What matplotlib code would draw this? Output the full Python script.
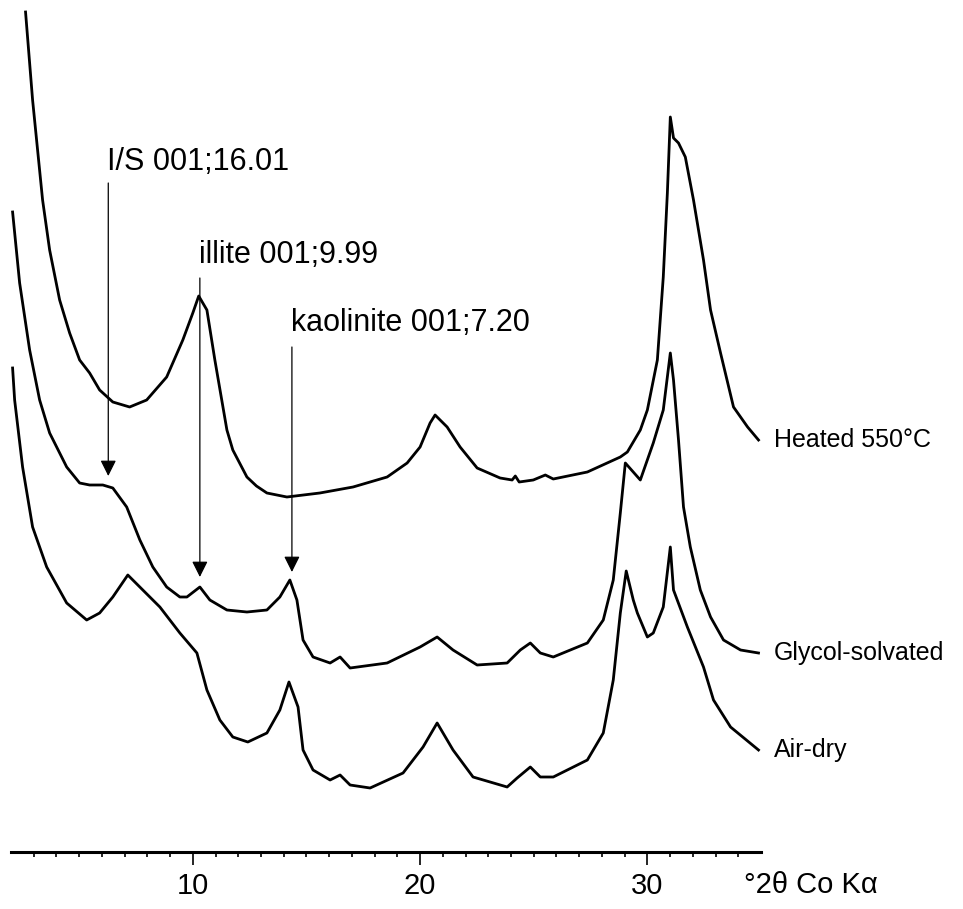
import numpy as np
import matplotlib
matplotlib.use('Agg')
import matplotlib.pyplot as plt

plt.rcParams['font.family'] = ['Liberation Sans', 'DejaVu Sans']

# XRD patterns, values (°2θ, stacked intensity)
heated_2theta = [2.64, 2.95, 3.17, 3.39, 3.70, 4.14, 4.58, 5.02, 5.46, 5.90, 6.48, 7.22, 7.97,
                 8.85, 9.56, 10.0, 10.26, 10.62, 10.97, 11.50, 11.76, 12.38, 12.80, 13.26,
                 14.14, 15.59, 17.05, 18.55, 19.43, 20.0, 20.44, 20.66, 21.19, 21.76, 22.51,
                 23.52, 24.05, 24.19, 24.36, 24.98, 25.51, 25.86, 27.36, 28.81, 29.12, 29.69,
                 30.0, 30.44, 30.70, 30.88, 31.01, 31.15, 31.37, 31.67, 32.03, 32.47, 32.78,
                 33.22, 33.79, 34.41, 34.89]
heated_int = [840, 752, 702, 652, 602, 552, 519, 492, 479, 462, 450, 445, 452,
              475, 512, 539, 556, 542, 492, 422, 402, 375, 366, 359,
              355, 359, 365, 375, 389, 405, 429, 437, 425, 405, 384,
              374, 372, 376, 370, 372, 377, 373, 380, 395, 400, 422,
              442, 492, 575, 659, 735, 714, 709, 695, 652, 592, 542,
              499, 445, 425, 412]

glycol_2theta = [2.07, 2.38, 2.82, 3.26, 3.70, 4.45, 5.02, 5.46, 6.04, 6.48, 7.09, 7.67, 8.24,
                 8.85, 9.43, 9.74, 10.31, 10.75, 11.50, 12.38, 13.26, 13.83, 14.27, 14.58,
                 14.85, 15.29, 16.04, 16.48, 16.92, 18.55, 20.0, 20.75, 21.45, 22.51, 23.83,
                 24.41, 24.85, 25.29, 25.86, 27.36, 28.06, 28.50, 28.81, 29.03, 29.69, 30.26,
                 30.70, 31.01, 31.15, 31.37, 31.59, 31.89, 32.33, 32.78, 33.35, 34.10, 34.89]
glycol_int = [640, 569, 502, 452, 419, 385, 369, 367, 367, 364, 345, 312, 285,
              265, 255, 255, 265, 252, 242, 240, 242, 255, 272, 252,
              212, 195, 189, 195, 184, 189, 205, 215, 202, 187, 189,
              202, 209, 199, 195, 209, 232, 272, 339, 389, 372, 409,
              442, 499, 472, 412, 345, 305, 262, 235, 212, 202, 199]

airdry_2theta = [2.07, 2.16, 2.51, 2.95, 3.57, 4.45, 5.33, 5.90, 6.48, 7.14, 7.80, 8.55, 9.43,
                 10.18, 10.62, 11.19, 11.76, 12.42, 13.26, 13.83, 14.23, 14.63, 14.85, 15.29,
                 16.04, 16.48, 16.92, 17.80, 19.25, 20.13, 20.75, 21.45, 22.33, 23.83, 24.27,
                 24.85, 25.29, 25.86, 27.36, 28.06, 28.50, 28.81, 29.07, 29.38, 29.56, 30.0,
                 30.26, 30.70, 31.01, 31.15, 31.76, 32.47, 32.91, 33.66, 34.89]
airdry_int = [484, 452, 385, 325, 285, 249, 232, 239, 255, 277, 262, 245, 219,
              199, 162, 132, 115, 110, 119, 142, 170, 145, 102, 82,
              72, 77, 67, 64, 79, 105, 129, 102, 75, 65, 74,
              85, 75, 75, 92, 119, 172, 239, 281, 252, 239, 215,
              219, 245, 305, 262, 225, 185, 152, 125, 102]

series_labels = ['Heated 550°C', 'Glycol-solvated', 'Air-dry']

peak_labels = ['I/S 001;16.01', 'illite 001;9.99', 'kaolinite 001;7.20']
peak_2theta = [6.28, 10.31, 14.36]

fig = plt.figure(figsize=(9.63, 9.09), dpi=100)
ax = fig.add_axes([11 / 963, 57 / 909, 750 / 963, 852 / 909])

for xs, ys in [(heated_2theta, heated_int), (glycol_2theta, glycol_int), (airdry_2theta, airdry_int)]:
    ax.plot(xs, ys, color='black', lw=2.0, solid_joinstyle='round')

# curve names at the right end
for lab, ys in zip(series_labels, [heated_int, glycol_int, airdry_int]):
    ax.text(35.55, ys[-1], lab, fontsize=18, va='center', ha='left', clip_on=False)

# peak annotations with arrows
text_y = [690, 597, 529]
start_y = [669, 574, 505]
tip_y = [376, 275, 280]
for lab, x, ty, sy, py in zip(peak_labels, peak_2theta, text_y, start_y, tip_y):
    ax.text(x - 0.05, ty, lab, fontsize=22, va='center', ha='left')
    ax.annotate('', xy=(x, py), xytext=(x, sy),
                arrowprops=dict(arrowstyle='-|>', color='black', lw=0.9,
                                mutation_scale=24, shrinkA=0, shrinkB=0))

ax.set_xlim(2, 35)
ax.set_ylim(0, 852)
ax.set_xticks([10, 20, 30])
ax.set_xticks(np.arange(3, 35, 1), minor=True)
ax.tick_params(axis='x', which='major', length=9.5, width=1.2, labelsize=21, pad=5)
ax.tick_params(axis='x', which='minor', length=3.8, width=1.2)
ax.set_yticks([])
for s in ['top', 'right', 'left']:
    ax.spines[s].set_visible(False)
ax.spines['bottom'].set_linewidth(2.2)
ax.patch.set_alpha(0)

ax.text(34.23, -33, '°2θ Co Kα', fontsize=21, va='center', ha='left', clip_on=False)

fig.savefig('out.png', dpi=100)
